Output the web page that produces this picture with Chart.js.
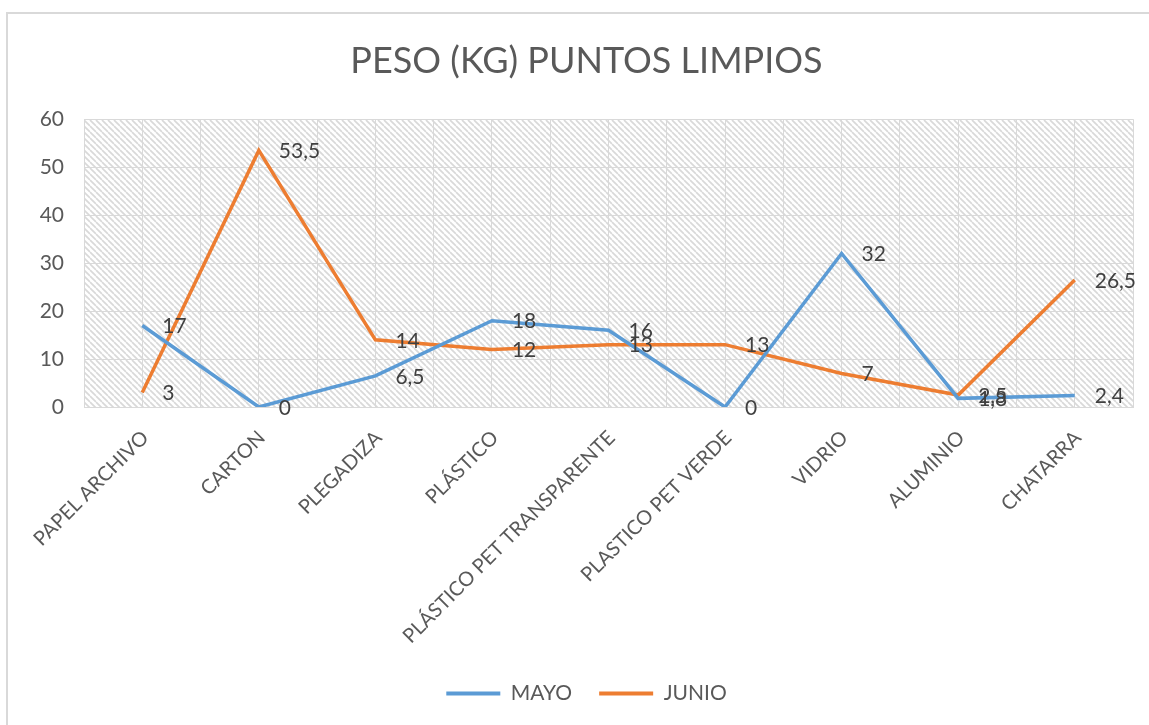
<!DOCTYPE html>
<html>
<head>
<meta charset="utf-8">
<title>Peso (kg) puntos limpios</title>
<script src="https://cdn.jsdelivr.net/npm/chart.js@4/dist/chart.umd.min.js"></script>
<style>
  html, body { margin: 0; padding: 0; background: #fff; overflow: hidden; }
  #wrap { width: 1149px; height: 725px; position: relative; }
</style>
</head>
<body>
<div id="wrap"><canvas id="myChart"></canvas></div>
<script>
let categories = ["PAPEL ARCHIVO", "CARTON", "PLEGADIZA", "PLÁSTICO", "PLÁSTICO PET TRANSPARENTE",
  "PLASTICO PET VERDE", "VIDRIO", "ALUMINIO", "CHATARRA"];
let mayo = [17, 0, 6.5, 18, 16, 0, 32, 1.8, 2.4];
let junio = [3, 53.5, 14, 12, 13, 13, 7, 2.5, 26.5];
let yTicks = [0, 10, 20, 30, 40, 50, 60];

let fontFamily = "Lato, 'Open Sans', sans-serif";
let gridColor = "#d9d9d9";
let textColor = "#595959";

// diagonal hatch used behind the plot
makeHatch = (ctx) => {
  let s = 6;
  let tile = document.createElement("canvas");
  tile.width = s;
  tile.height = s;
  let t = tile.getContext("2d");
  t.strokeStyle = "#d9d9d9";
  t.lineWidth = 1.7;
  for (let x0 = -s; x0 <= s; x0 += s) {
    t.beginPath();
    t.moveTo(x0, 0);
    t.lineTo(x0 + s, s);
    t.stroke();
  }
  return ctx.createPattern(tile, "repeat");
};

let backgroundPlugin = {
  id: "background",
  beforeDraw: (chart) => {
    let ctx = chart.ctx;
    let a = chart.chartArea;
    ctx.save();
    ctx.fillStyle = "#fff";
    ctx.fillRect(0, 0, chart.width, chart.height);
    ctx.fillStyle = makeHatch(ctx);
    ctx.fillRect(a.left, a.top, a.right - a.left, a.bottom - a.top);
    // outer frame (top and left edges are the only ones in view)
    ctx.strokeStyle = "#d9d9d9";
    ctx.lineWidth = 2;
    ctx.beginPath();
    ctx.moveTo(7, chart.height);
    ctx.lineTo(7, 13);
    ctx.lineTo(chart.width, 13);
    ctx.stroke();
    ctx.restore();
  }
};

// value labels to the right of each point
let valueLabels = {
  id: "valueLabels",
  afterDatasetsDraw: (chart) => {
    let ctx = chart.ctx;
    ctx.save();
    ctx.font = "21px " + fontFamily;
    ctx.fillStyle = "#404040";
    ctx.textAlign = "left";
    ctx.textBaseline = "middle";
    chart.data.datasets.forEach((ds, i) => {
      let meta = chart.getDatasetMeta(i);
      meta.data.forEach((pt, j) => {
        let txt = String(ds.data[j]).replace(".", ",");
        ctx.fillText(txt, pt.x + 20, pt.y + 1);
      });
    });
    ctx.restore();
  }
};

let ctx = document.getElementById("myChart").getContext("2d");
let chart = new Chart(ctx, {
  type: "line",
  data: {
    labels: categories,
    datasets: [
      {
        label: "MAYO",
        data: mayo,
        borderColor: "#5b9bd5",
        backgroundColor: "#5b9bd5",
        borderWidth: 3.5,
        pointRadius: 0,
        tension: 0
      },
      {
        label: "JUNIO",
        data: junio,
        borderColor: "#ed7d31",
        backgroundColor: "#ed7d31",
        borderWidth: 3.5,
        pointRadius: 0,
        tension: 0
      }
    ]
  },
  options: {
    responsive: true,
    maintainAspectRatio: false,
    animation: false,
    layout: { padding: { top: 30, right: 16, bottom: 11, left: 40 } },
    plugins: {
      title: {
        display: true,
        text: "PESO (KG) PUNTOS LIMPIOS",
        color: textColor,
        font: { family: fontFamily, size: 36, weight: "normal" },
        padding: { top: 10, bottom: 36 }
      },
      legend: {
        position: "bottom",
        labels: {
          color: textColor,
          font: { family: fontFamily, size: 21 },
          boxWidth: 54,
          boxHeight: 4,
          padding: 27,
          generateLabels: (chart) => {
            let items = Chart.defaults.plugins.legend.labels.generateLabels(chart);
            items.forEach((it) => { it.lineWidth = 0; });
            return items;
          }
        }
      },
      tooltip: { enabled: false }
    },
    scales: {
      x: {
        offset: true,
        grid: { color: gridColor, offset: false, drawTicks: false },
        border: { color: gridColor },
        ticks: {
          color: textColor,
          font: { family: fontFamily, size: 20 },
          maxRotation: 45,
          minRotation: 45,
          padding: 19,
          labelOffset: 3,
          autoSkip: false
        },
        afterFit: (scale) => { scale.height = 249; }
      },
      x2: {
        type: "category",
        position: "bottom",
        labels: categories,
        offset: true,
        grid: { color: gridColor, offset: true, drawTicks: false },
        border: { display: false },
        ticks: { display: false },
        afterFit: (scale) => { scale.height = 0; }
      },
      y: {
        min: 0,
        max: 60,
        afterBuildTicks: (scale) => { scale.ticks = yTicks.map((v) => ({ value: v })); },
        grid: { color: gridColor, drawTicks: false },
        border: { display: false },
        ticks: {
          color: textColor,
          font: { family: fontFamily, size: 21 },
          padding: 20
        },
        afterFit: (scale) => { scale.width = 44; }
      }
    }
  },
  plugins: [backgroundPlugin, valueLabels]
});
</script>
</body>
</html>
